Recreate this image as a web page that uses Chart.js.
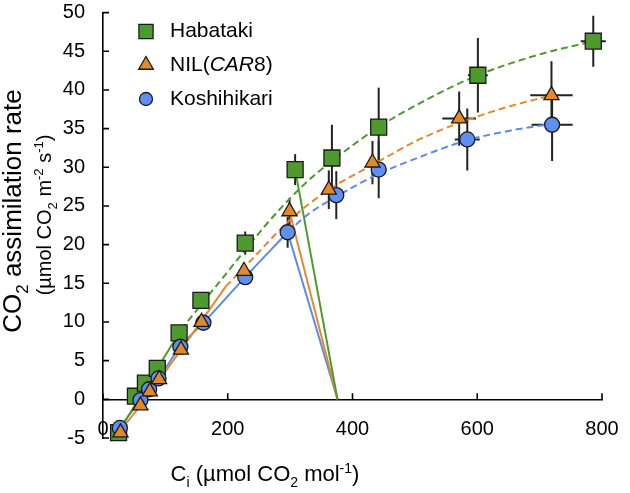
<!DOCTYPE html>
<html>
<head>
<meta charset="utf-8">
<script src="https://cdn.jsdelivr.net/npm/chart.js@4.4.1/dist/chart.umd.min.js"></script>
<style>
    html, body { margin: 0; padding: 0; background: #fff; }
</style>
</head>
<body>
<canvas id="aciChart" width="630" height="493"></canvas>
<script>
const FONT = '"Liberation Sans", Arial, Helvetica, sans-serif';

// Measured points (Ci, A) with error bars
const habatakiCi = [25, 52, 68, 87, 122, 157, 228, 308, 367, 442, 601, 786];
const habatakiA = [-4.3, 0.4, 2.1, 4.0, 8.6, 12.8, 20.2, 29.7, 31.2, 35.2, 41.9, 46.3];
const habatakiCiErr = [0, 0, 0, 0, 0, 0, 0, 0, 0, 0, 16, 20];
const habatakiAErr = [0, 0, 0, 0, 0, 0.5, 1.5, 2.0, 4.3, 5.1, 4.8, 3.3];

const nilCi = [28, 60, 75, 90, 125, 158, 226, 299, 362, 432, 571, 719];
const nilA = [-4.3, -0.8, 1.0, 2.6, 6.4, 10.0, 16.6, 24.3, 27.1, 30.6, 36.3, 39.3];
const nilCiErr = [0, 0, 0, 0, 0, 0, 0, 0, 0, 0, 27, 34];
const nilAErr = [0, 0, 0, 0, 0, 0.5, 1.0, 1.7, 2.5, 2.8, 3.5, 4.4];

const koshCi = [27, 60, 74, 89, 124, 161, 228, 296, 374, 442, 584, 720];
const koshA = [-3.7, -0.1, 1.3, 2.7, 6.8, 9.9, 15.8, 21.6, 26.4, 29.7, 33.6, 35.5];
const koshCiErr = [0, 0, 0, 0, 0, 0, 0, 0, 0, 0, 20, 33];
const koshAErr = [0, 0, 0, 0, 0, 0.5, 1.0, 2.0, 3.1, 3.7, 4.0, 4.7];

// Fitted curves: solid = Rubisco-limited, dashed = RuBP-limited
const habatakiSolidCi = [22, 125];
const habatakiSolidA = [-4.6, 9.0];
const habatakiDashCi = [125, 157, 228, 267, 320, 367, 442, 520, 601, 700, 786];
const habatakiDashA = [9.0, 12.2, 19.3, 23.1, 27.6, 30.8, 35.2, 38.8, 41.9, 44.6, 46.3];

const nilSolidCi = [22, 60, 125, 197];
const nilSolidA = [-4.6, -0.8, 6.4, 14.6];
const nilDashCi = [197, 226, 300, 360, 432, 507, 570, 640, 719];
const nilDashA = [14.6, 17.0, 23.2, 27.0, 30.3, 33.6, 35.7, 37.6, 39.3];

const koshSolidCi = [22, 60, 89, 124, 161, 228, 296];
const koshSolidA = [-4.2, -0.1, 2.7, 6.8, 9.9, 15.8, 21.6];
const koshDashCi = [296, 330, 374, 438, 507, 584, 650, 717];
const koshDashA = [21.6, 24.0, 26.2, 29.0, 31.3, 33.5, 34.7, 35.6];

// Supply lines from the ambient point down to the x axis
const habatakiSupplyCi = [308, 376];
const habatakiSupplyA = [29.7, 0];
const nilSupplyCi = [299, 376];
const nilSupplyA = [24.3, 0];
const koshSupplyCi = [296, 376];
const koshSupplyA = [21.6, 0];

const GREEN = '#4f9a2f';
const ORANGE = '#e18a2c';
const BLUE = '#5f8ff2';
const GREEN_LINE = '#4e9a30';
const ORANGE_LINE = '#e5882e';
const BLUE_LINE = '#5b89ee';

function toXY(xs, ys) {
    return xs.map((x, i) => ({ x: x, y: ys[i] }));
}

function lineSet(xs, ys, color, dashed) {
    return {
        data: toXY(xs, ys),
        showLine: true,
        borderColor: color,
        borderWidth: 2,
        borderDash: dashed ? [7, 4] : [],
        pointRadius: 0,
        cubicInterpolationMode: 'monotone',
        fill: false,
        order: 10
    };
}

function pointSet(label, xs, ys, xErr, yErr, style, radius, color, order) {
    return {
        label: label,
        data: toXY(xs, ys),
        showLine: false,
        pointStyle: style,
        pointRadius: radius,
        backgroundColor: color,
        borderColor: '#1a1a1a',
        borderWidth: 1.3,
        clip: false,
        errX: xErr,
        errY: yErr,
        order: order
    };
}

// error bars, drawn under the markers
const errorBars = {
    id: 'errorBars',
    beforeDatasetsDraw(chart) {
        const { ctx, scales: { x, y } } = chart;
        ctx.save();
        ctx.strokeStyle = '#222';
        ctx.lineWidth = 2;
        chart.data.datasets.forEach(ds => {
            if (!ds.errY) return;
            ds.data.forEach((p, i) => {
                const px = x.getPixelForValue(p.x);
                const py = y.getPixelForValue(p.y);
                const ey = ds.errY[i];
                const ex = ds.errX[i];
                ctx.beginPath();
                if (ey) {
                    ctx.moveTo(px, y.getPixelForValue(p.y - ey));
                    ctx.lineTo(px, y.getPixelForValue(p.y + ey));
                }
                if (ex) {
                    ctx.moveTo(x.getPixelForValue(p.x - ex), py);
                    ctx.lineTo(x.getPixelForValue(p.x + ex), py);
                }
                ctx.stroke();
            });
        });
        ctx.restore();
    }
};

// inward tick marks on both axes
const innerTicks = {
    id: 'innerTicks',
    beforeDatasetsDraw(chart) {
        const { ctx, scales: { x, y } } = chart;
        const x0 = x.getPixelForValue(0);
        const y0 = y.getPixelForValue(0);
        ctx.save();
        ctx.strokeStyle = '#000';
        ctx.lineWidth = 1.6;
        ctx.beginPath();
        y.ticks.forEach(t => {
            const py = y.getPixelForValue(t.value);
            ctx.moveTo(x0, py);
            ctx.lineTo(x0 + 6, py);
        });
        x.ticks.forEach(t => {
            const px = x.getPixelForValue(t.value);
            ctx.moveTo(px, y0);
            ctx.lineTo(px, y0 - 6);
        });
        ctx.stroke();
        ctx.restore();
    }
};

// text with italic / sub / superscript parts
function drawRich(ctx, parts, size, cx, baseline) {
    const fontFor = p => (p.italic ? 'italic ' : '') + ((p.sub || p.sup) ? Math.round(size * 0.65) : size) + 'px ' + FONT;
    let total = 0;
    parts.forEach(p => {
        ctx.font = fontFor(p);
        p.w = ctx.measureText(p.t).width;
        total += p.w;
    });
    let x = cx - total / 2;
    ctx.textAlign = 'left';
    ctx.textBaseline = 'alphabetic';
    parts.forEach(p => {
        ctx.font = fontFor(p);
        const dy = p.sub ? size * 0.28 : (p.sup ? -size * 0.38 : 0);
        ctx.fillText(p.t, x, baseline + dy);
        x += p.w;
    });
}

const titlesAndLegend = {
    id: 'titlesAndLegend',
    afterDraw(chart) {
        const ctx = chart.ctx;
        ctx.save();
        ctx.fillStyle = '#000';

        // x title
        drawRich(ctx, [
            { t: 'C' }, { t: 'i', sub: true }, { t: ' (\u00b5mol CO' }, { t: '2', sub: true },
            { t: ' mol' }, { t: '-1', sup: true }, { t: ')' }
        ], 22, 265, 481);

        // y title, two lines
        ctx.save();
        ctx.translate(21, 211);
        ctx.rotate(-Math.PI / 2);
        drawRich(ctx, [{ t: 'CO' }, { t: '2', sub: true }, { t: ' assimilation rate' }], 26, 0, 0);
        ctx.restore();
        ctx.save();
        ctx.translate(51, 215);
        ctx.rotate(-Math.PI / 2);
        drawRich(ctx, [
            { t: '(\u00b5mol CO' }, { t: '2', sub: true }, { t: ' m' }, { t: '-2', sup: true },
            { t: ' s' }, { t: '-1', sup: true }, { t: ')' }
        ], 20, 0, 0);
        ctx.restore();

        // legend
        const rows = [
            { style: 'rect', r: 10, color: GREEN, y: 31.5, parts: [{ t: 'Habataki' }] },
            { style: 'triangle', r: 8.5, color: ORANGE, y: 65, parts: [{ t: 'NIL(' }, { t: 'CAR', italic: true }, { t: '8)' }] },
            { style: 'circle', r: 6.5, color: BLUE, y: 99, parts: [{ t: 'Koshihikari' }] }
        ];
        rows.forEach(row => {
            ctx.fillStyle = row.color;
            ctx.strokeStyle = '#1a1a1a';
            ctx.lineWidth = 1.3;
            Chart.helpers.drawPoint(ctx, { pointStyle: row.style, radius: row.r, rotation: 0, borderWidth: 1.3 }, 146, row.y);
            ctx.fillStyle = '#000';
            let x = 170;
            ctx.textAlign = 'left';
            ctx.textBaseline = 'middle';
            row.parts.forEach(p => {
                ctx.font = (p.italic ? 'italic ' : '') + '21px ' + FONT;
                ctx.fillText(p.t, x, row.y);
                x += ctx.measureText(p.t).width;
            });
        });
        ctx.restore();
    }
};

const ctx = document.getElementById('aciChart').getContext('2d');

new Chart(ctx, {
    type: 'scatter',
    data: {
        datasets: [
            lineSet(habatakiSolidCi, habatakiSolidA, GREEN_LINE, false),
            lineSet(habatakiDashCi, habatakiDashA, GREEN_LINE, true),
            lineSet(habatakiSupplyCi, habatakiSupplyA, GREEN_LINE, false),
            lineSet(nilSolidCi, nilSolidA, ORANGE_LINE, false),
            lineSet(nilDashCi, nilDashA, ORANGE_LINE, true),
            lineSet(nilSupplyCi, nilSupplyA, ORANGE_LINE, false),
            lineSet(koshSolidCi, koshSolidA, BLUE_LINE, false),
            lineSet(koshDashCi, koshDashA, BLUE_LINE, true),
            lineSet(koshSupplyCi, koshSupplyA, BLUE_LINE, false),
            pointSet('Habataki', habatakiCi, habatakiA, habatakiCiErr, habatakiAErr, 'rect', 11.3, GREEN, 3),
            pointSet('Koshihikari', koshCi, koshA, koshCiErr, koshAErr, 'circle', 7.5, BLUE, 2),
            pointSet('NIL(CAR8)', nilCi, nilA, nilCiErr, nilAErr, 'triangle', 8.7, ORANGE, 1)
        ]
    },
    options: {
        responsive: false,
        animation: false,
        layout: {
            padding: { left: 0, top: 10, right: 28, bottom: 55 }
        },
        plugins: {
            legend: { display: false },
            tooltip: { enabled: false }
        },
        scales: {
            x: {
                type: 'linear',
                position: { y: 0 },
                min: 0,
                max: 800,
                afterFit: scale => {
                    scale.height = 0;
                    scale.paddingLeft = 0;
                    scale.paddingRight = 0;
                },
                grid: { display: false, drawTicks: false },
                border: { display: true, color: '#000', width: 1.6 },
                ticks: {
                    stepSize: 200,
                    padding: 18,
                    color: '#000',
                    font: { family: FONT, size: 20 }
                }
            },
            y: {
                type: 'linear',
                position: 'left',
                min: -5,
                max: 50,
                afterFit: scale => {
                    scale.width = 103;
                    scale.paddingTop = 0;
                    scale.paddingBottom = 0;
                },
                grid: { display: false, drawTicks: false },
                border: { display: true, color: '#000', width: 1.6 },
                ticks: {
                    stepSize: 5,
                    padding: 18,
                    color: '#000',
                    font: { family: FONT, size: 20 }
                }
            }
        }
    },
    plugins: [errorBars, innerTicks, titlesAndLegend]
});
</script>
</body>
</html>
